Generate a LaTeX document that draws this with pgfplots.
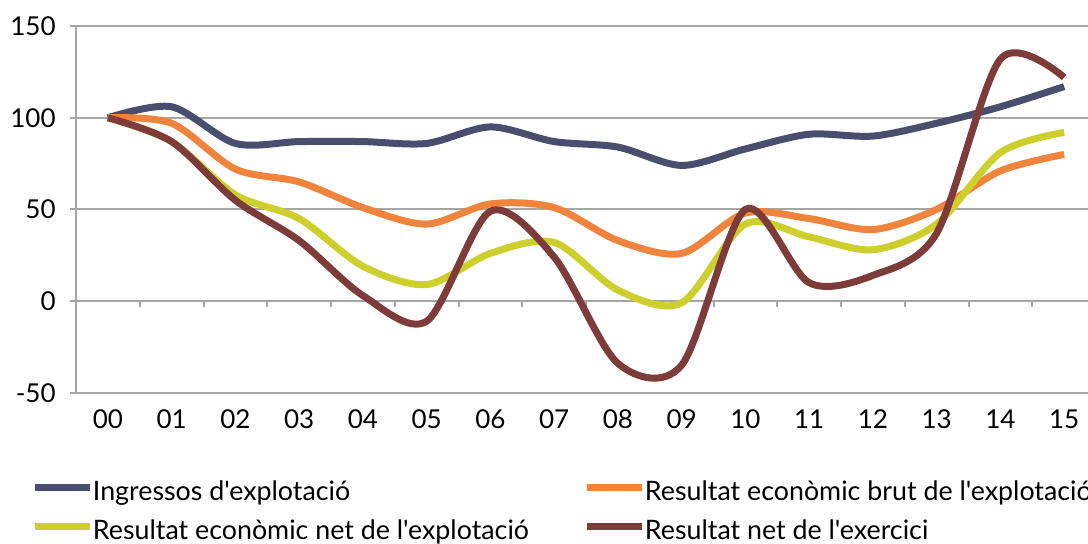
\documentclass[border=0pt]{standalone}
\usepackage{fontspec}
\setmainfont{Lato}[Ligatures=TeXOff]
\usepackage{pgfplots}
\pgfplotsset{compat=1.18}
\definecolor{cNavy}{HTML}{4A4E6E}
\definecolor{cOrange}{HTML}{F0843C}
\definecolor{cYellow}{HTML}{CDD02C}
\definecolor{cBrown}{HTML}{7D3C39}
\definecolor{cGrid}{HTML}{A6A6A6}
\begin{document}
\fontsize{12pt}{14pt}\selectfont
\begin{tikzpicture}
\useasboundingbox (-38pt,-75.15pt) rectangle (506pt,196.35pt);
\begin{axis}[
  at={(0pt,0pt)}, anchor=south west,
  scale only axis, width=510pt, height=183.3pt,
  xmin=-0.5, xmax=15.5, ymin=-50, ymax=150,
  axis x line=middle, axis y line=left,
  axis line style={-, draw=cGrid, line width=1pt},
  tick align=outside,
  ytick={-50,0,50,100,150}, yticklabels={-50,0,50,100,150},
  ymajorgrids, grid style={cGrid, line width=1pt},
  major y tick style={draw=cGrid, line width=1pt},
  major tick length=3pt,
  xtick={0,...,15},
  xticklabels={00,01,02,03,04,05,06,07,08,09,10,11,12,13,14,15},
  major x tick style={draw=none},
  minor xtick={-0.5,0.5,...,15.5},
  minor x tick style={draw=cGrid, line width=1pt},
  minor tick length=3pt,
  xticklabel style={yshift=-47pt, font=\fontsize{13pt}{15pt}\selectfont},
  yticklabel style={xshift=-3pt, font=\fontsize{13pt}{15pt}\selectfont},
  every tick label/.append style={text=black},
  legend columns=2,
  legend style={at={(axis description cs:-0.0432,-0.240)}, anchor=north west,
    draw=none, fill=none, inner sep=0pt, outer sep=0pt,
    font=\fontsize{13.4pt}{15pt}\selectfont,
    row sep=6.5pt, column sep=0pt,
    nodes={inner sep=0pt, text height=10pt, text depth=3pt, anchor=west},
    /tikz/every odd column/.append style={column sep=-0.5pt}},
  legend image code/.code={\draw[#1, line width=3.5pt] (0pt,3pt) -- (27.5pt,3pt);},
  clip=false,
]
\addplot[cNavy, line width=3.5pt, smooth, tension=0.5] coordinates {
(0,100) (1,106) (2,86) (3,87) (4,87) (5,86) (6,95) (7,87) (8,84) (9,74) (10,83) (11,91) (12,90) (13,97) (14,106) (15,117)};
\addlegendentry{\makebox[245.5pt][l]{Ingressos d'explotació}}
\addplot[cOrange, line width=3.5pt, smooth, tension=0.5] coordinates {
(0,100) (1,97) (2,72) (3,65) (4,51) (5,42) (6,53) (7,51) (8,33) (9,26) (10,48) (11,45) (12,39) (13,50) (14,71) (15,80)};
\addlegendentry{Resultat econòmic brut de l'explotació}
\addplot[cYellow, line width=3.5pt, smooth, tension=0.5] coordinates {
(0,100) (1,87) (2,58) (3,45) (4,19) (5,9) (6,26) (7,32) (8,6) (9,-1) (10,42) (11,35) (12,28) (13,42) (14,81) (15,92)};
\addlegendentry{\makebox[245.5pt][l]{Resultat econòmic net de l'explotació}}
\addplot[cBrown, line width=3.5pt, smooth, tension=0.5] coordinates {
(0,100) (1,87) (2,55) (3,33) (4,3) (5,-11) (6,49) (7,24) (8,-34) (9,-35) (10,50) (11,10) (12,14) (13,37) (14,132) (15,122)};
\addlegendentry{Resultat net de l'exercici}
\end{axis}
\end{tikzpicture}
\end{document}
